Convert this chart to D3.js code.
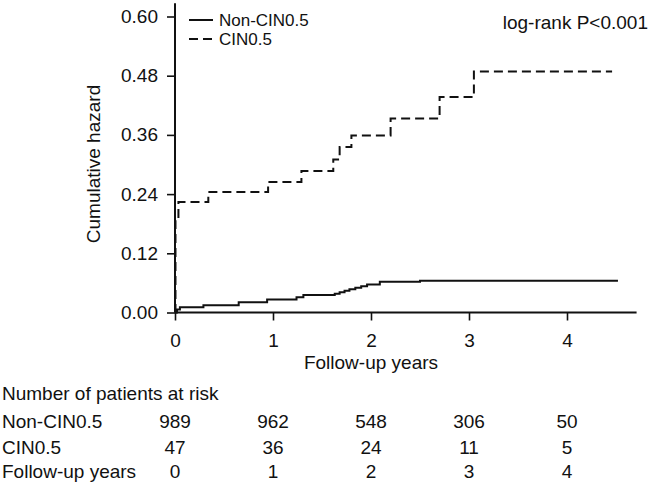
<!DOCTYPE html>
<html>
<head>
<meta charset="utf-8">
<script src="https://cdn.jsdelivr.net/npm/d3@7"></script>
<style>
  html, body { margin: 0; padding: 0; background: #fff; }
  svg text { font-family: "Liberation Sans", Arial, Helvetica, sans-serif; fill: #111; }
</style>
</head>
<body>
<svg id="chart" width="650" height="485"></svg>
<script>
// ---- data ----
const nonCinTimes  = [0, 0.02, 0.05, 0.29, 0.65, 0.94, 1.24, 1.31, 1.63, 1.68, 1.73, 1.78, 1.84, 1.90, 1.96, 2.09, 2.50, 4.52];
const nonCinHazard = [0, 0.006, 0.0105, 0.0145, 0.021, 0.0265, 0.031, 0.0355, 0.038, 0.041, 0.044, 0.047, 0.050, 0.053, 0.057, 0.0623, 0.0644, 0.0644];
const cinTimes     = [0, 0.005, 0.035, 0.34, 0.95, 1.29, 1.615, 1.68, 1.80, 2.20, 2.70, 3.05, 4.46];
const cinHazard    = [0, 0.187, 0.224, 0.2445, 0.2647, 0.287, 0.310, 0.3355, 0.359, 0.393, 0.4367, 0.4887, 0.4887];
const yTicks = [0, 0.12, 0.24, 0.36, 0.48, 0.60];
const xTicks = [0, 1, 2, 3, 4];
const seriesNames = ["Non-CIN0.5", "CIN0.5"];
const riskYears = [0, 1, 2, 3, 4];
const riskNonCin = [989, 962, 548, 306, 50];
const riskCin = [47, 36, 24, 11, 5];
const riskTitle = "Number of patients at risk";
const xTitle = "Follow-up years";
const yTitle = "Cumulative hazard";
const pText = "log-rank P<0.001";

// ---- layout ----
const svg = d3.select("#chart");
const FS = 19;
const x = d3.scaleLinear().domain([0, 4]).range([175, 567]);
const y = d3.scaleLinear().domain([0, 0.6]).range([312.5, 16.5]);
const xMax = 4.71, yMax = 0.627;

// axes
const gx = svg.append("g").attr("transform", `translate(0,${y(0)})`)
  .call(d3.axisBottom(x).tickValues(xTicks).tickFormat(d3.format("d")).tickSize(8).tickPadding(4));
gx.select(".domain").remove();
gx.append("line").attr("x1", x(0)).attr("x2", x(xMax)).attr("stroke", "#111").attr("stroke-width", 2);

const gy = svg.append("g").attr("transform", `translate(${x(0)},0)`)
  .call(d3.axisLeft(y).tickValues(yTicks).tickFormat(d3.format(".2f")).tickSize(8).tickPadding(9));
gy.select(".domain").remove();
gy.append("line").attr("y1", y(0)).attr("y2", y(yMax)).attr("stroke", "#111").attr("stroke-width", 2);

[gx, gy].forEach(g => {
  g.selectAll(".tick line").attr("stroke", "#111").attr("stroke-width", 1.6);
  g.selectAll(".tick text").style("font-size", FS + "px").attr("fill", "#111")
    .style("font-family", '"Liberation Sans", Arial, sans-serif');
});
gx.selectAll(".tick text").attr("dy", null).attr("y", 0).attr("transform", "translate(0,29)")
  .attr("dominant-baseline", "middle");

// axis titles
svg.append("text").attr("x", (x(0) + x(4)) / 2).attr("y", 362).attr("dy", "0.35em")
  .attr("text-anchor", "middle").style("font-size", FS + "px").text(xTitle);
svg.append("text").attr("transform", "translate(93,164) rotate(-90)").attr("dy", "0.35em")
  .attr("text-anchor", "middle").style("font-size", FS + "px").text(yTitle);

// curves
const line = d3.line().x(d => x(d[0])).y(d => y(d[1])).curve(d3.curveStepAfter);
const nonCin = nonCinTimes.map((t, i) => [t, nonCinHazard[i]]);
const cin = cinTimes.map((t, i) => [t, cinHazard[i]]);
svg.append("path").datum(nonCin).attr("d", line).attr("fill", "none")
  .attr("stroke", "#111").attr("stroke-width", 2);
svg.append("path").datum(cin).attr("d", line).attr("fill", "none")
  .attr("stroke", "#111").attr("stroke-width", 2).attr("stroke-dasharray", "9,5");

// legend
const legY = [20, 39];
seriesNames.forEach((name, i) => {
  svg.append("line").attr("x1", 189).attr("x2", 213).attr("y1", legY[i]).attr("y2", legY[i])
    .attr("stroke", "#111").attr("stroke-width", 2)
    .attr("stroke-dasharray", i === 1 ? "9,5" : null);
  svg.append("text").attr("x", 219).attr("y", legY[i]).attr("dy", "0.35em")
    .style("font-size", "17px").text(name);
});

svg.append("text").attr("x", 648).attr("y", 22).attr("dy", "0.35em")
  .attr("text-anchor", "end").style("font-size", FS + "px").text(pText);

// risk table
const rowY = [393, 421, 447, 471];
svg.append("text").attr("x", 2).attr("y", rowY[0]).attr("dy", "0.35em")
  .style("font-size", FS + "px").text(riskTitle);
const rows = [[seriesNames[0], riskNonCin], [seriesNames[1], riskCin], [xTitle, riskYears]];
rows.forEach((r, i) => {
  svg.append("text").attr("x", 2).attr("y", rowY[i + 1]).attr("dy", "0.35em")
    .style("font-size", FS + "px").text(r[0]);
  r[1].forEach((v, j) => {
    svg.append("text").attr("x", x(riskYears[j])).attr("y", rowY[i + 1]).attr("dy", "0.35em")
      .attr("text-anchor", "middle").style("font-size", FS + "px").text(v);
  });
});
</script>
</body>
</html>
